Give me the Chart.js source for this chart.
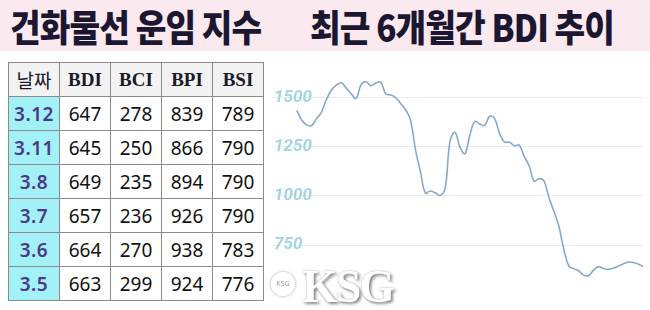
<!DOCTYPE html>
<html>
<head>
<meta charset="utf-8">
<script src="https://cdn.jsdelivr.net/npm/chart.js@4"></script>
<style>
  body { margin: 0; width: 650px; height: 310px; background: #fff; position: relative; overflow: hidden; font-family: "Noto Sans", sans-serif; }
  #titulo { position: absolute; left: 0; top: 0; width: 650px; height: 51px; background: #fbe9f0; }
  #titulo span { position: absolute; top: -1px; font-family: "Noto Sans CJK KR", sans-serif; font-weight: 900; font-size: 37px; color: #1c1730; white-space: nowrap; transform-origin: left center; transform: scaleX(0.9); letter-spacing: -1px; }
  table { position: absolute; left: 8px; top: 62px; border-collapse: collapse; }
  td, th { border: 1px solid #8a8a8a; height: 33px; padding: 0; text-align: center; font-size: 19px; color: #111; }
  th { background: #f2f2f2; font-family: "Liberation Serif", serif; font-weight: bold; width: 50px; font-size: 19px; color: #1a1a2a; }
  th.d { font-family: "Noto Sans CJK KR", sans-serif; font-weight: 400; width: 50px; }
  td.d { background: #a2f1f6; color: #4a3988; font-weight: 600; letter-spacing: 0.5px; }
  #wrap { position: absolute; left: 268px; top: 55px; width: 380px; height: 240px; }
  #ksg { position: absolute; left: 302px; top: 260px; font-family: "Liberation Serif", serif; font-weight: bold; font-size: 46px; color: #fff; text-shadow: 2px 2px 3px #888, 0 0 2px #aaa; letter-spacing: -2px; }
  #logo { position: absolute; left: 271px; top: 272px; width: 20px; height: 20px; border-radius: 50%; border: 2px solid #fff; box-shadow: 0 0 3px #999; font-size: 7px; color: #999; text-align: center; line-height: 20px; }
</style>
</head>
<body>
<div id="titulo">
  <span style="left:10px">건화물선 운임 지수</span>
  <span style="left:310px">최근 6개월간 BDI 추이</span>
</div>
<table id="tabela"></table>
<div id="wrap"><canvas id="bdiChart"></canvas></div>
<div id="logo">KSG</div>
<div id="ksg">KSG</div>
<script>
// tabela de indices
const colunas = ['날짜', 'BDI', 'BCI', 'BPI', 'BSI'];
const datas = ['3.12', '3.11', '3.8', '3.7', '3.6', '3.5'];
const bdi = [647, 645, 649, 657, 664, 663];
const bci = [278, 250, 235, 236, 270, 299];
const bpi = [839, 866, 894, 926, 938, 924];
const bsi = [789, 790, 790, 790, 783, 776];

// BDI ultimos 6 meses
const bdiSerie = [
  1435, 1386, 1361, 1358, 1392, 1426, 1490, 1537, 1563, 1575,
  1548, 1520, 1495, 1565, 1580, 1560, 1574, 1578, 1518, 1513,
  1500, 1470, 1438, 1385, 1235, 1124, 1015, 1025, 1016, 1003,
  1040, 1280, 1323, 1248, 1215, 1310, 1378, 1365, 1358, 1405,
  1393, 1318, 1274, 1273, 1255, 1258, 1200, 1152, 1075, 1088,
  1075, 990, 922, 845, 728, 645, 631, 620, 598, 596,
  623, 641, 632, 627, 633, 643, 655, 664, 662, 654, 641
];
const yTicks = [750, 1000, 1250, 1500];

// monta tabela
const tabela = document.getElementById('tabela');
let html = '<tr>' + colunas.map((c, i) => `<th class="${i === 0 ? 'd' : ''}">${c}</th>`).join('') + '</tr>';
datas.forEach((d, i) => {
    html += `<tr><td class="d">${d}</td><td>${bdi[i]}</td><td>${bci[i]}</td><td>${bpi[i]}</td><td>${bsi[i]}</td></tr>`;
});
tabela.innerHTML = html;

const ctx = document.getElementById('bdiChart').getContext('2d');
new Chart(ctx, {
    type: 'line',
    data: {
        labels: bdiSerie.map((_, i) => i),
        datasets: [{
            data: bdiSerie.map((v, i) => ({ x: i, y: v })),
            borderColor: '#86a9cb',
            borderWidth: 1.6,
            pointRadius: 0,
            tension: 0.4,
            fill: false
        }]
    },
    options: {
        responsive: true,
        maintainAspectRatio: false,
        animation: false,
        layout: { padding: { top: 5, bottom: 5, left: 0, right: 5 } },
        plugins: { legend: { display: false }, tooltip: { enabled: false } },
        scales: {
            x: { type: 'linear', min: -5, max: bdiSerie.length - 1, display: false },
            y: {
                min: 559, max: 1654,
                afterBuildTicks: s => { s.ticks = yTicks.map(v => ({ value: v })); },
                border: { display: false },
                grid: { color: '#ebebeb', drawTicks: false, lineWidth: 1 },
                ticks: {
                    mirror: true,
                    padding: 2,
                    color: '#a3d5e0',
                    callback: v => String(v),
                    font: { family: 'Roboto', size: 17, weight: 'bold', style: 'italic' }
                }
            }
        }
    }
});
</script>
</body>
</html>
